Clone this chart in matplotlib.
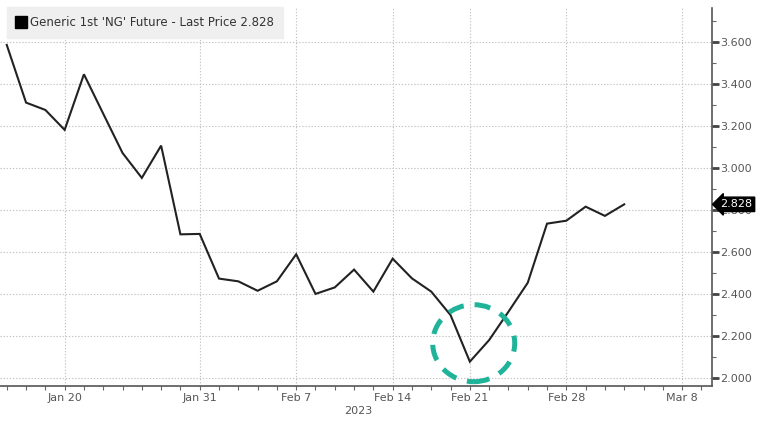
import matplotlib
matplotlib.use("Agg")
import matplotlib.pyplot as plt
from matplotlib.patches import Ellipse
from matplotlib.lines import Line2D
from matplotlib.ticker import MultipleLocator, FixedLocator

# ---- data ----
dates = ["Jan 17", "Jan 18", "Jan 19", "Jan 20", "Jan 23", "Jan 24", "Jan 25", "Jan 26", "Jan 27",
         "Jan 30", "Jan 31", "Feb 1", "Feb 2", "Feb 3", "Feb 6", "Feb 7", "Feb 8", "Feb 9", "Feb 10",
         "Feb 13", "Feb 14", "Feb 15", "Feb 16", "Feb 17", "Feb 21", "Feb 22", "Feb 23", "Feb 24",
         "Feb 27", "Feb 28", "Mar 1", "Mar 2", "Mar 3"]
future_dates = ["Mar 6", "Mar 7", "Mar 8", "Mar 9"]
prices = [3.588, 3.313, 3.278, 3.183, 3.448, 3.26, 3.073, 2.954, 3.108,
          2.685, 2.687, 2.474, 2.461, 2.416, 2.461, 2.590, 2.401, 2.432, 2.517,
          2.412, 2.569, 2.475, 2.412, 2.300, 2.078, 2.181, 2.316, 2.454,
          2.736, 2.750, 2.817, 2.773, 2.828]
tick_dates = ["Jan 20", "Jan 31", "Feb 7", "Feb 14", "Feb 21", "Feb 28", "Mar 8"]
y_ticks = [2.0, 2.2, 2.4, 2.6, 2.8, 3.0, 3.2, 3.4, 3.6]
year_label = "2023"
legend_label = "Generic 1st 'NG' Future - Last Price 2.828"
last_price = 2.828

all_dates = dates + future_dates
x = list(range(len(dates)))

W, H = 767, 426
fig = plt.figure(figsize=(W / 100, H / 100), dpi=100)
ax = fig.add_axes([0.0, 40 / H, 712 / W, (386 - 8) / H])

ax.plot(x, prices, color="#222222", lw=1.5, solid_joinstyle="miter", zorder=3)

ax.set_xlim(-0.35, 36.55)
ax.set_ylim(1.962, 3.764)

# spines
for s in ["left", "top"]:
    ax.spines[s].set_visible(False)
for s in ["right", "bottom"]:
    ax.spines[s].set_color("#555555")
    ax.spines[s].set_linewidth(1.2)

# y axis on the right
ax.yaxis.tick_right()
ax.set_yticks(y_ticks)
ax.set_yticklabels([f"{v:.3f}" for v in y_ticks])
ax.yaxis.set_minor_locator(MultipleLocator(0.1))
ax.tick_params(axis="y", which="major", direction="out", length=5, width=2,
               color="#444444", labelsize=8, labelcolor="#555555", pad=1)
ax.tick_params(axis="y", which="minor", direction="out", length=3, width=0.8, color="#666666")

# x axis
tick_idx = [all_dates.index(d) for d in tick_dates]
ax.xaxis.set_major_locator(FixedLocator(tick_idx))
ax.set_xticklabels(tick_dates)
ax.xaxis.set_minor_locator(FixedLocator(list(range(len(all_dates)))))
ax.tick_params(axis="x", which="major", direction="out", length=3, width=0.8,
               color="#666666", labelsize=8, labelcolor="#555555", pad=2)
ax.tick_params(axis="x", which="minor", direction="out", length=3, width=0.8, color="#666666")

# grid
ax.grid(True, which="major", axis="both", color="#c4c4c4", linestyle=(0, (1.2, 1.6)), lw=0.8)
ax.set_axisbelow(True)

# year label
fig.text(358 / W, 1 - 411 / H, year_label, ha="center", va="center", fontsize=8, color="#555555")

# highlight circle around the minimum
imin = prices.index(min(prices))
circle = Ellipse((imin + 0.2, min(prices) + 0.088), width=4.25, height=0.367,
                 fill=False, edgecolor="#1fb39a", lw=3.6, linestyle=(0, (3.2, 2.2)),
                 zorder=4, clip_on=False)
ax.add_patch(circle)

# last price tag
ax.annotate(f"{last_price:.3f}", xy=(1.0, last_price), xycoords=("axes fraction", "data"),
            xytext=(6, 0), textcoords="offset points", ha="left", va="center",
            fontsize=8, color="white",
            bbox=dict(boxstyle="larrow,pad=0.2", fc="black", ec="black"),
            annotation_clip=False, zorder=6)

# legend
handle = Line2D([], [], marker="s", color="black", linestyle="none", markersize=8)
leg = ax.legend([handle], [legend_label], loc="upper left",
                bbox_to_anchor=(7 / W, 1 - 7 / H), bbox_transform=fig.transFigure,
                frameon=True, fancybox=False, framealpha=1, facecolor="#efefef",
                edgecolor="#efefef", fontsize=8.5, handlelength=0.8, handletextpad=0.4,
                borderpad=0.75, borderaxespad=0)
for t in leg.get_texts():
    t.set_color("#333333")

fig.savefig("out.png", dpi=100)
